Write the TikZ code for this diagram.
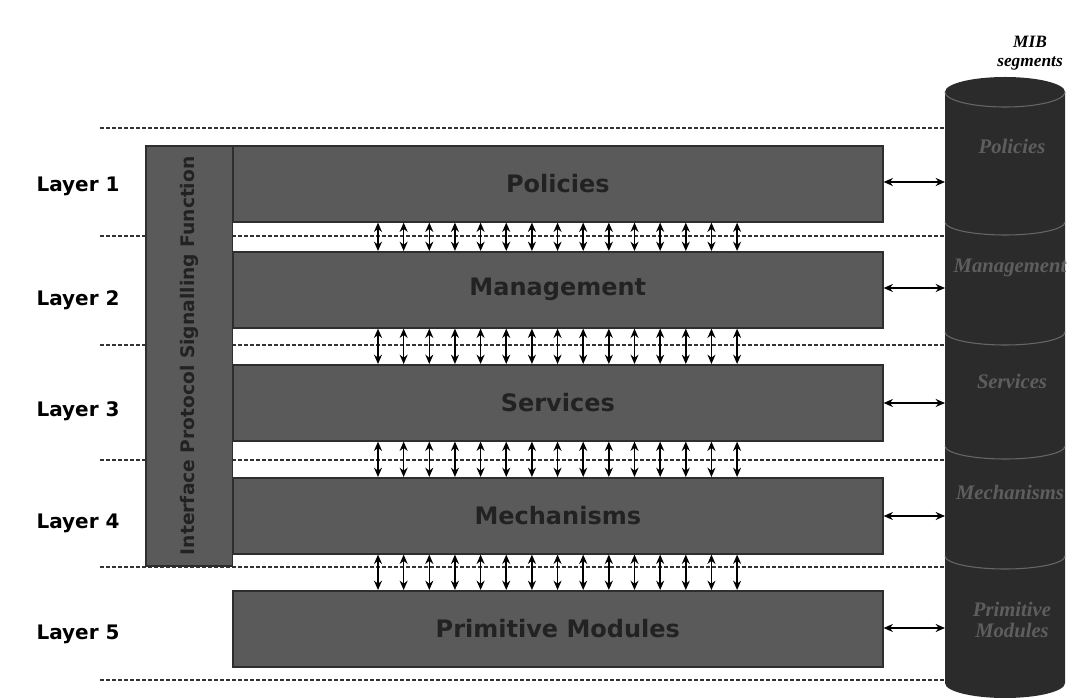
\documentclass[tikz,border=0pt]{standalone}
\usepackage{fontspec}
\setmainfont{Liberation Serif}
\setsansfont{DejaVu Sans}
\usetikzlibrary{arrows.meta}
\definecolor{boxfill}{HTML}{5A5A5A}
\definecolor{boxedge}{HTML}{2E2E2E}
\definecolor{boxtext}{HTML}{222222}
\definecolor{cylfill}{HTML}{2B2B2B}
\definecolor{cyltext}{HTML}{5E5E5E}
\tikzset{
  layerbox/.style={draw=boxedge, line width=1.2pt, fill=boxfill, minimum width=487.5pt, minimum height=57pt, anchor=north west, inner sep=0pt,
    font=\sffamily\bfseries\fontsize{18}{20}\selectfont, text=boxtext},
  layerlabel/.style={font=\sffamily\bfseries\fontsize{15}{17}\selectfont, text=black},
  sepline/.style={dashed, dash pattern=on 3pt off 1.5pt, line width=0.9pt, black!80},
  dbl/.style={{Stealth[length=7pt,width=6pt]}-{Stealth[length=7pt,width=6pt]}, line width=1.2pt, black},
  miblabel/.style={font=\bfseries\itshape\fontsize{15.5}{16}\selectfont, text=cyltext, align=center},
}
\begin{document}
\begin{tikzpicture}[x=0.75pt,y=-0.75pt]
\useasboundingbox (0,0) rectangle (1072,698);
% dashed separators
\foreach \yy in {128,236,345,460,567,680}
  \draw[sepline] (100,\yy) -- (945,\yy);
% boxes
\node[layerbox] (pol) at (232,145) {Policies};
\node[layerbox] (man) at (232,251) {Management};
\node[layerbox] (ser) at (232,364) {Services};
\node[layerbox] (mec) at (232,477) {Mechanisms};
\node[layerbox] (pri) at (232,590) {Primitive Modules};
% vertical signalling bar
\node[draw=boxedge, line width=1.2pt, fill=boxfill, minimum width=65pt, minimum height=315pt, anchor=north west, inner sep=0pt] (bar) at (145,145) {};
\node[rotate=90, font=\sffamily\bfseries\fontsize{14}{16}\selectfont, text=boxtext] (bartext) at (bar.center) {Interface Protocol Signalling Function};
% layer labels
\node[layerlabel] (l1) at (78,186) {Layer 1};
\node[layerlabel] (l2) at (78,300) {Layer 2};
\node[layerlabel] (l3) at (78,411) {Layer 3};
\node[layerlabel] (l4) at (78,523) {Layer 4};
\node[layerlabel] (l5) at (78,634) {Layer 5};
% vertical double arrows between layers
\foreach \a/\b in {pol/man,man/ser,ser/mec,mec/pri}{
  \foreach \i in {0,...,14}{
    \coordinate (c\a\i) at (378+\i*25.65,0);
    \draw[dbl] (\a.south -| c\a\i) -- (\b.north -| c\a\i);
  }
}
% MIB cylinder
\fill[cylfill] (945,92) arc[start angle=180,end angle=360,x radius=60,y radius=15] -- (1065,683) arc[start angle=0,end angle=180,x radius=60,y radius=15] -- cycle;
\draw[black!60, line width=0.8pt] (945,92) arc[start angle=180,end angle=0,x radius=60,y radius=15];
\foreach \yy in {222,332,446,556}
  \draw[black!60, line width=0.8pt] (945,\yy) arc[start angle=180,end angle=0,x radius=60,y radius=13];
\node[coordinate] (cylw1) at (945,182) {};
\node[coordinate] (cylw2) at (945,288) {};
\node[coordinate] (cylw3) at (945,403) {};
\node[coordinate] (cylw4) at (945,516) {};
\node[coordinate] (cylw5) at (945,628) {};
\node[miblabel] (m1) at (1012,146) {Policies};
\node[miblabel] (m2) at (1010,268) {Management};
\node[miblabel] (m3) at (1012,381) {Services};
\node[miblabel] (m4) at (1010,492) {Mechanisms};
\node[miblabel] (m5) at (1012,620) {Primitive\\Modules};
\node[font=\bfseries\itshape\fontsize{13}{14}\selectfont, align=center] (mibhead) at (1030,53) {MIB\\segments};
% horizontal double arrows
\draw[dbl] (pol.east |- cylw1) -- (cylw1);
\draw[dbl] (man.east |- cylw2) -- (cylw2);
\draw[dbl] (ser.east |- cylw3) -- (cylw3);
\draw[dbl] (mec.east |- cylw4) -- (cylw4);
\draw[dbl] (pri.east |- cylw5) -- (cylw5);
\end{tikzpicture}
\end{document}
